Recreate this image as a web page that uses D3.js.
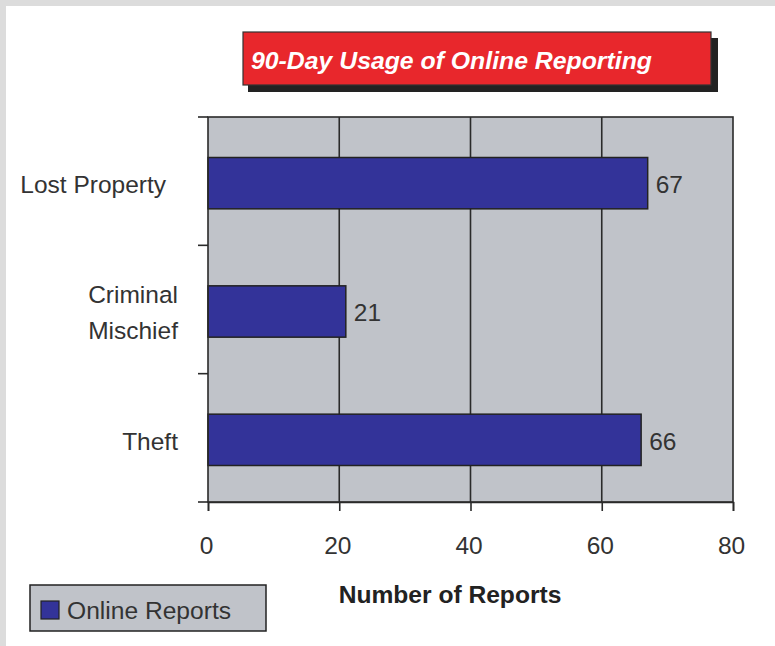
<!DOCTYPE html>
<html><head><meta charset="utf-8">
<script src="https://cdn.jsdelivr.net/npm/d3@7"></script>
<style>
html,body{margin:0;padding:0;background:#fff;}
text{font-family:"Liberation Sans",Arial,sans-serif;}
</style></head>
<body>
<svg id="chart" width="775" height="646"></svg>
<script>
const categories = ["Lost Property", "Criminal Mischief", "Theft"];
const categoryLines = [["Lost Property"], ["Criminal", "Mischief"], ["Theft"]];
const values = [67, 21, 66];
const xTicks = [0, 20, 40, 60, 80];
const seriesName = "Online Reports";
const titleText = "90-Day Usage of Online Reporting";
const xAxisTitle = "Number of Reports";

const svg = d3.select("#chart");
const W = 775, H = 646;
// frame
svg.append("rect").attr("x",0).attr("y",0).attr("width",W).attr("height",H).attr("fill","#dcdcdc");
svg.append("rect").attr("x",6).attr("y",6).attr("width",W-6).attr("height",H-6).attr("fill","#fff");

const m = {left:208, right:733, top:117, bottom:502};
const x = d3.scaleLinear().domain([0,80]).range([m.left, m.right]);
const y = d3.scaleBand().domain(categories).range([m.top, m.bottom]).paddingInner(0.6).paddingOuter(0.3);

// plot background
svg.append("rect").attr("x",m.left).attr("y",m.top).attr("width",m.right-m.left).attr("height",m.bottom-m.top)
  .attr("fill","#c0c3c9");

// vertical gridlines
svg.append("g").selectAll("line").data(xTicks.slice(1,-1)).join("line")
  .attr("x1",d=>x(d)).attr("x2",d=>x(d)).attr("y1",m.top).attr("y2",m.bottom)
  .attr("stroke","#2a2a2a").attr("stroke-width",1.6);

// bars
svg.append("g").selectAll("rect").data(values).join("rect")
  .attr("x",x(0)).attr("y",(d,i)=>y(categories[i])+2)
  .attr("width",d=>x(d)-x(0)).attr("height",y.bandwidth())
  .attr("fill","#333399").attr("stroke","#222").attr("stroke-width",1.5);

// value labels
svg.append("g").selectAll("text").data(values).join("text")
  .attr("x",d=>x(d)+8).attr("y",(d,i)=>y(categories[i])+3+y.bandwidth()/2)
  .attr("dy","0.36em").attr("font-size",24.5).attr("fill","#333").text(d=>d);

// plot border
svg.append("rect").attr("x",m.left).attr("y",m.top).attr("width",m.right-m.left).attr("height",m.bottom-m.top)
  .attr("fill","none").attr("stroke","#2a2a2a").attr("stroke-width",1.6);

// x axis
const xAxis = d3.axisBottom(x).tickValues(xTicks).tickSize(9).tickPadding(26);
const gx = svg.append("g").attr("transform",`translate(0,${m.bottom})`).call(xAxis);
gx.select(".domain").attr("stroke","#2a2a2a").attr("stroke-width",1.6);
gx.selectAll(".tick line").attr("stroke","#2a2a2a").attr("stroke-width",1.6);
gx.selectAll(".tick text").attr("font-size",24.5).attr("fill","#333").attr("dx","-2")
  .attr("font-family","Liberation Sans, Arial, sans-serif");

// y axis ticks (category boundaries)
const bounds = d3.range(categories.length+1).map(i=>m.top + i*(m.bottom-m.top)/categories.length);
svg.append("g").selectAll("line").data(bounds).join("line")
  .attr("x1",m.left-10).attr("x2",m.left).attr("y1",d=>d).attr("y2",d=>d)
  .attr("stroke","#2a2a2a").attr("stroke-width",1.6);

// category labels
const cg = svg.append("g");
categoryLines.forEach((lines,i)=>{
  const cy = y(categories[i]) + 3 + y.bandwidth()/2;
  const lh = 36;
  const t = cg.append("text").attr("text-anchor","end").attr("font-size",24.5).attr("fill","#333");
  const ax = lines.length === 1 && lines[0].length > 8 ? 166 : 178;
  lines.forEach((ln,j)=>{
    t.append("tspan").attr("x",ax).attr("y", cy + (j-(lines.length-1)/2)*lh).attr("dy","0.36em").text(ln);
  });
});

// title box
svg.append("rect").attr("x",248).attr("y",38).attr("width",470).attr("height",54).attr("fill","#222");
svg.append("rect").attr("x",243).attr("y",32).attr("width",468).attr("height",53).attr("fill","#e8272c")
  .attr("stroke","#333").attr("stroke-width",1.2);
svg.append("text").attr("x",251).attr("y",69).attr("font-size",24.8).attr("font-weight","bold")
  .attr("font-style","italic").attr("fill","#fff").text(titleText);

// x axis title
svg.append("text").attr("x",450).attr("y",603).attr("text-anchor","middle").attr("font-size",24.6)
  .attr("font-weight","bold").attr("fill","#222").text(xAxisTitle);

// legend
svg.append("rect").attr("x",30).attr("y",585).attr("width",236).attr("height",46).attr("fill","#c0c3c9")
  .attr("stroke","#222").attr("stroke-width",1.5);
svg.append("rect").attr("x",41).attr("y",601).attr("width",18).attr("height",18).attr("fill","#333399")
  .attr("stroke","#222").attr("stroke-width",1.2);
svg.append("text").attr("x",67).attr("y",619).attr("font-size",24.6).attr("fill","#333").text(seriesName);
</script>
</body></html>
